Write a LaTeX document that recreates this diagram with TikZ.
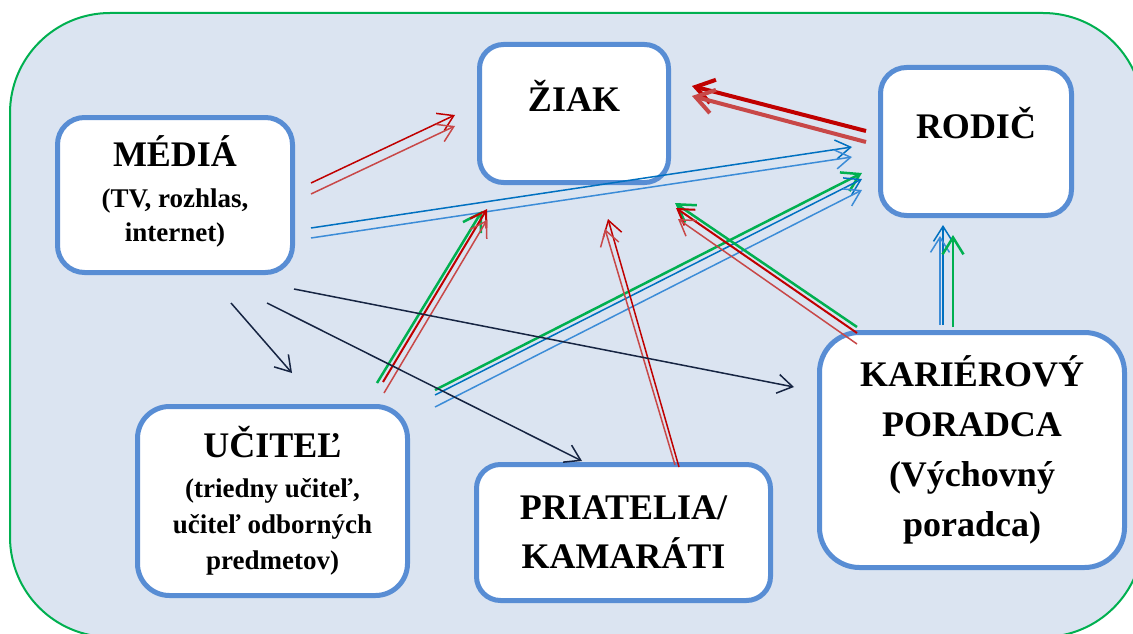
\documentclass[tikz,border=0pt]{standalone}
\usepackage{fontspec}
\setmainfont{Liberation Serif}
\usetikzlibrary{arrows.meta}
\definecolor{bgfill}{RGB}{219,228,241}
\definecolor{bggreen}{RGB}{0,176,80}
\definecolor{boxblue}{RGB}{88,141,212}
\definecolor{rA}{RGB}{192,0,0}
\definecolor{rB}{RGB}{200,72,72}
\definecolor{bA}{RGB}{0,112,192}
\definecolor{bB}{RGB}{60,140,215}
\definecolor{gA}{RGB}{0,176,80}
\definecolor{nv}{RGB}{22,36,66}
\newcommand\subtxt{\fontsize{27}{27}\selectfont}
\tikzset{
  box/.style={draw=boxblue, line width=5pt, fill=white, align=center, inner sep=0pt},
  thin/.style={line width=1.5pt, -{Straight Barb[length=15pt,width=19pt,line join=miter,line cap=butt]}},
  mid/.style={line width=2.5pt, -{Straight Barb[length=17pt,width=21pt,line join=miter,line cap=butt]}},
  thick/.style={line width=4pt, -{Straight Barb[length=18pt,width=24pt,line join=miter,line cap=butt]}},
}
\begin{document}
\begin{tikzpicture}[x=1pt,y=-1pt]
\useasboundingbox (0,0) rectangle (1133,634);
\clip (0,0) rectangle (1133,634);
\fill[white] (0,0) rectangle (1133,634);
\draw[bggreen, line width=2pt, fill=bgfill, rounded corners=100pt] (10,13) rectangle (1143,637);

% boxes
\node[box, minimum width=235pt, minimum height=155pt, rounded corners=27pt,
      font={\fontsize{36}{34}\selectfont\bfseries}] (media) at (175,195)
      {MÉDIÁ\\[7pt]\subtxt (TV, rozhlas,\\\subtxt internet)\\[-21pt]\mbox{}};
\node[box, minimum width=189pt, minimum height=138pt, rounded corners=24pt,
      text height=30pt, text depth=35pt,
      font={\fontsize{36}{36}\selectfont\bfseries}] (ziak) at (574,113.5) {ŽIAK};
\node[box, minimum width=191pt, minimum height=148pt, rounded corners=26pt,
      text height=30pt, text depth=37pt,
      font={\fontsize{36}{36}\selectfont\bfseries}] (rodic) at (976,141.5) {RODIČ};
\node[box, minimum width=305pt, minimum height=235pt, rounded corners=40pt,
      font={\fontsize{36}{50}\selectfont\bfseries}] (kariera) at (972,450)
      {KARIÉROVÝ\\PORADCA\\(Výchovný\\poradca)};
\node[box, minimum width=270pt, minimum height=189pt, rounded corners=32pt,
      font={\fontsize{36}{36}\selectfont\bfseries}] (ucitel) at (272.5,501)
      {UČITEĽ\\[4pt]\subtxt (triedny učiteľ,\\\subtxt učiteľ odborných\\\subtxt predmetov)};
\node[box, minimum width=294pt, minimum height=136pt, rounded corners=24pt,
      font={\fontsize{36}{49}\selectfont\bfseries}] (priatelia) at (623.5,532.5)
      {PRIATELIA/\\KAMARÁTI};

% connector end points
\coordinate (a1s) at (311,183); \coordinate (a1e) at (455,115);
\coordinate (a2s) at (311,194); \coordinate (a2e) at (455,126);
\coordinate (b1s) at (311,228); \coordinate (b1e) at (852,147);
\coordinate (b2s) at (311,238); \coordinate (b2e) at (852,157);
\coordinate (c1s) at (866,131); \coordinate (c1e) at (692,86);
\coordinate (c2s) at (866,142); \coordinate (c2e) at (692,96);
\coordinate (d1s) at (377,383); \coordinate (d1e) at (482,211);
\coordinate (d2s) at (383,382); \coordinate (d2e) at (487,209);
\coordinate (d3s) at (384,393); \coordinate (d3e) at (487,220);
\coordinate (e1s) at (435,390); \coordinate (e1e) at (862,173);
\coordinate (e2s) at (435,395); \coordinate (e2e) at (862,179);
\coordinate (e3s) at (435,407); \coordinate (e3e) at (862,190);
\coordinate (f1s) at (679,467); \coordinate (f1e) at (608,219);
\coordinate (f2s) at (675,465); \coordinate (f2e) at (605,229);
\coordinate (g1s) at (857,327); \coordinate (g1e) at (675,203);
\coordinate (g2s) at (857,333); \coordinate (g2e) at (676,208);
\coordinate (g3s) at (857,344); \coordinate (g3e) at (678,219);
\coordinate (h1s) at (943,325); \coordinate (h1e) at (943,225);
\coordinate (h2s) at (940,325); \coordinate (h2e) at (940,236);
\coordinate (h3s) at (953,327); \coordinate (h3e) at (953,235);
\coordinate (i1s) at (231,303); \coordinate (i1e) at (292,373);
\coordinate (i2s) at (267,303); \coordinate (i2e) at (582,461);
\coordinate (i3s) at (294,289); \coordinate (i3e) at (794,387);

% MÉDIÁ -> ŽIAK
\draw[thin, rA] (a1s) -- (a1e);
\draw[thin, rB] (a2s) -- (a2e);
% MÉDIÁ -> RODIČ
\draw[thin, bA] (b1s) -- (b1e);
\draw[thin, bB] (b2s) -- (b2e);
% RODIČ -> ŽIAK
\draw[thick, rA] (c1s) -- (c1e);
\draw[thick, rB] (c2s) -- (c2e);
% UČITEĽ -> ŽIAK
\draw[mid, gA] (d1s) -- (d1e);
\draw[thin, rA, line width=2pt] (d2s) -- (d2e);
\draw[thin, rB] (d3s) -- (d3e);
% UČITEĽ -> RODIČ
\draw[mid, gA] (e1s) -- (e1e);
\draw[thin, bA] (e2s) -- (e2e);
\draw[thin, bB] (e3s) -- (e3e);
% PRIATELIA -> ŽIAK
\draw[thin, rA] (f1s) -- (f1e);
\draw[thin, rB] (f2s) -- (f2e);
% KARIÉROVÝ -> ŽIAK
\draw[mid, gA] (g1s) -- (g1e);
\draw[thin, rA, line width=2pt] (g2s) -- (g2e);
\draw[thin, rB] (g3s) -- (g3e);
% KARIÉROVÝ -> RODIČ
\draw[thin, bA] (h1s) -- (h1e);
\draw[thin, bB] (h2s) -- (h2e);
\draw[mid, gA] (h3s) -- (h3e);
% MÉDIÁ -> others
\draw[thin, nv] (i1s) -- (i1e);
\draw[thin, nv] (i2s) -- (i2e);
\draw[thin, nv] (i3s) -- (i3e);
\end{tikzpicture}
\end{document}
